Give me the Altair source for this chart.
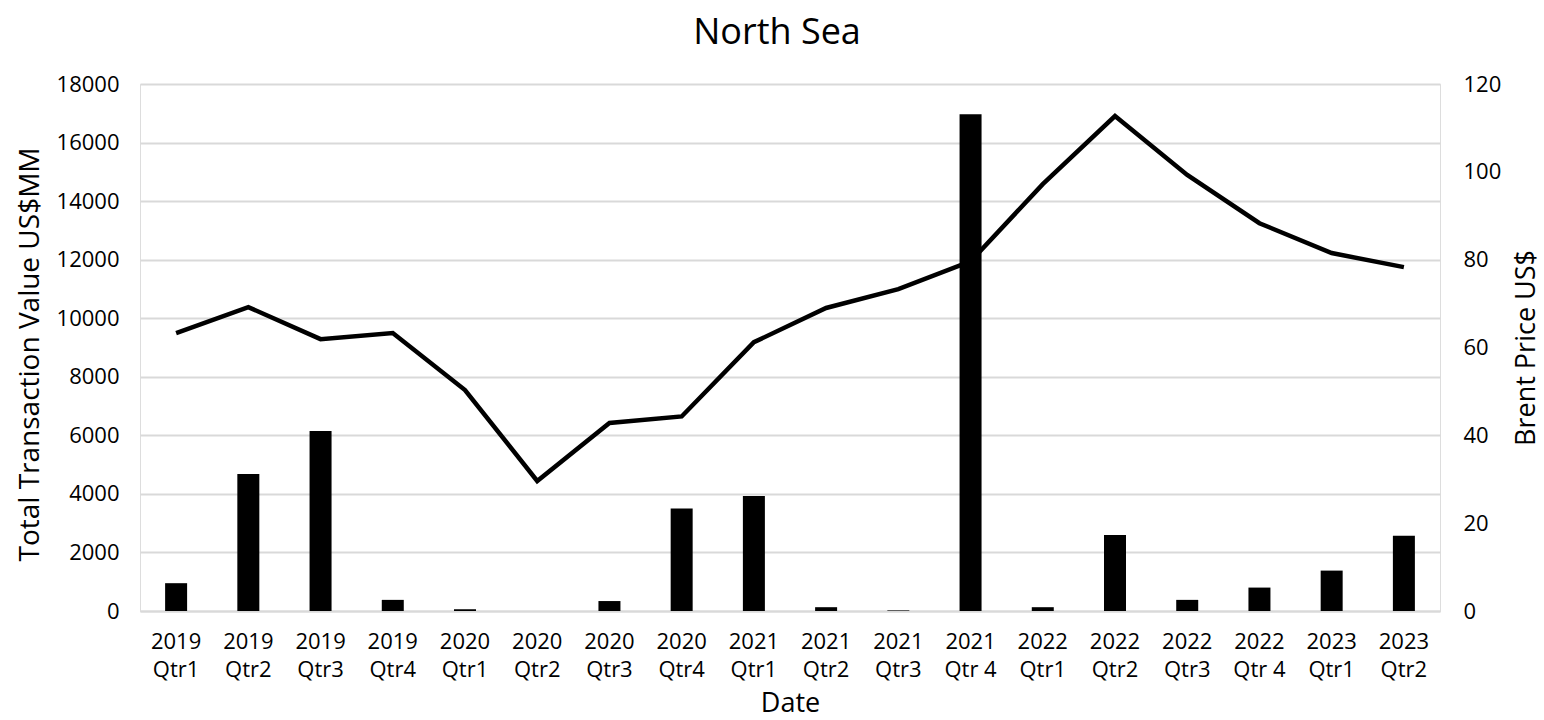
import altair as alt
import pandas as pd

quarters = ["2019|Qtr1", "2019|Qtr2", "2019|Qtr3", "2019|Qtr4",
            "2020|Qtr1", "2020|Qtr2", "2020|Qtr3", "2020|Qtr4",
            "2021|Qtr1", "2021|Qtr2", "2021|Qtr3", "2021|Qtr 4",
            "2022|Qtr1", "2022|Qtr2", "2022|Qtr3", "2022|Qtr 4",
            "2023|Qtr1", "2023|Qtr2"]
transaction_value = [950, 4680, 6150, 380, 60, 0, 340, 3500, 3930, 130, 20, 16970,
                     130, 2600, 380, 800, 1380, 2570]
brent_price = [63.3, 69.2, 61.9, 63.3, 50.3, 29.6, 42.8, 44.3, 61.2, 69.0, 73.3, 79.6,
               97.2, 112.7, 99.3, 88.3, 81.5, 78.3]

df = pd.DataFrame({"Date": quarters, "Value": transaction_value, "Brent": brent_price})

FONT = "Open Sans"
TICK = 22
TTL = 27

x_enc = alt.X("Date:N", sort=quarters,
              scale=alt.Scale(paddingInner=0.0, paddingOuter=0.0),
              axis=alt.Axis(title="Date", labelAngle=0,
                            labelExpr="split(datum.label, '|')",
                            labelFontSize=TICK, labelColor="#000000", labelFont=FONT,
                            labelPadding=20, labelLineHeight=28,
                            ticks=False, domainColor="#d9d9d9", domainWidth=2,
                            titleFontSize=TTL, titleFont=FONT, titleFontWeight="normal",
                            titleColor="#000000", titleY=100, titleBaseline="alphabetic"))

bars = alt.Chart(df).mark_bar(color="#000000", size=22).encode(
    x=x_enc,
    y=alt.Y("Value:Q",
            scale=alt.Scale(domain=[0, 18000], nice=False),
            axis=alt.Axis(title="Total Transaction Value US$MM", values=list(range(0, 18001, 2000)),
                          format="d", grid=True, gridColor="#d9d9d9", gridWidth=2,
                          domain=False, ticks=False, labelPadding=21,
                          labelFontSize=TICK, labelColor="#000000", labelFont=FONT,
                          titleFontSize=28, titleFont=FONT, titleFontWeight="normal",
                          titleColor="#000000", titleAngle=270, titleX=-102, titleY=270,
                          titleAlign="center", titleBaseline="alphabetic")),
)

line = alt.Chart(df).mark_line(color="#000000", strokeWidth=4.5, strokeJoin="miter").encode(
    x=x_enc,
    y=alt.Y("Brent:Q",
            scale=alt.Scale(domain=[0, 120], nice=False),
            axis=alt.Axis(title="Brent Price US$", orient="right", values=list(range(0, 121, 20)),
                          grid=False, domain=False, ticks=False, labelPadding=23,
                          labelFontSize=TICK, labelColor="#000000", labelFont=FONT,
                          titleFontSize=TTL, titleFont=FONT, titleFontWeight="normal",
                          titleColor="#000000", titleAngle=270, titleX=94, titleY=263.5,
                          titleAlign="center", titleBaseline="alphabetic")),
)

chart = alt.layer(bars, line).resolve_scale(y="independent").properties(
    width=1300, height=527,
    title=alt.TitleParams("North Sea", fontSize=36, font=FONT, fontWeight="normal",
                          color="#000000", offset=30, anchor="middle", dx=-13, dy=37,
                          baseline="alphabetic"),
    autosize=alt.AutoSizeParams(type="none"),
    padding={"left": 140, "top": 84, "right": 104, "bottom": 109},
).configure_view(stroke=None).configure(background="#ffffff")

chart.save("out.html", embed_options={"renderer": "svg", "actions": False})
